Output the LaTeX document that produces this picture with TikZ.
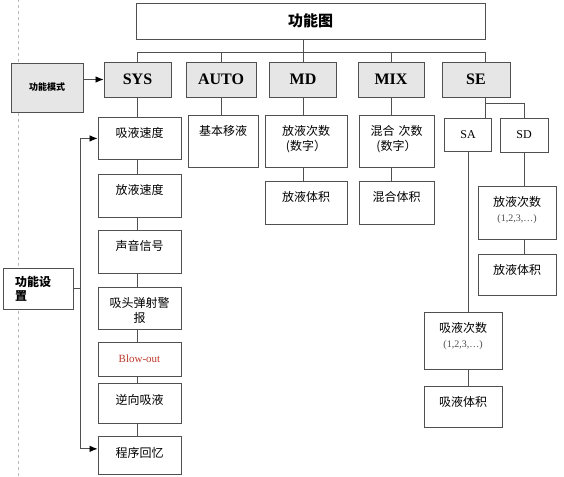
\documentclass[tikz,border=0pt]{standalone}
\usepackage{fontspec}
\setmainfont{Liberation Serif}
\newfontfamily\cjk{Noto Sans CJK SC}
\usetikzlibrary{arrows.meta,positioning,calc}
\definecolor{linegray}{HTML}{505050}
\definecolor{modegray}{HTML}{E6E6E6}
\definecolor{dashgray}{HTML}{BBBBBB}
\definecolor{blowred}{HTML}{C0392B}

\begin{document}
\begin{tikzpicture}[x=1pt,y=1pt,node distance=13pt,
 box/.style={draw=linegray,line width=0.9pt,fill=white,inner sep=0pt},
 modebox/.style={box,fill=modegray,minimum height=35pt,font=\bfseries\fontsize{16}{18}\selectfont},
 cell/.style 2 args={box,minimum width=#1pt,text width=64pt,align=center,inner ysep=8pt,text height=12.5pt,text depth=#2pt-28.5pt,font=\cjk\fontsize{12}{14.5}\selectfont},
 conn/.style={draw=linegray,line width=0.8pt},
 arr/.style={conn,-{Latex[length=8pt,width=6.5pt,color=black]}}]
\useasboundingbox (0,0) rectangle (564,476);
\draw[dashed,dashgray] (18,0) -- (18,476);
\coordinate (bus) at (0,424);
\coordinate (rail) at (80,0);

\node[box,minimum width=349pt,minimum height=36pt,font=\cjk\bfseries\fontsize{15}{18}\selectfont] (title) at (310.5,455) {功能图};

\node[modebox,minimum width=67pt] (SYS) at (137.5,396.5) {SYS};
\node[modebox,minimum width=70pt] (AUTO) at (221,396.5) {AUTO};
\node[modebox,minimum width=67pt] (MD) at (303,396.5) {MD};
\node[modebox,minimum width=66pt] (MIX) at (391,396.5) {MIX};
\node[modebox,minimum width=68pt] (SE) at (476,396.5) {SE};
\node[box,fill=modegray,minimum width=72pt,minimum height=49pt,font=\cjk\bfseries\fontsize{9}{11}\selectfont] (mode) at (47,388.5) {功能模式};

\node[cell={83}{42},anchor=north] (sys1) at (139.5,359) {吸液速度};
\node[cell={83}{43},below=14pt of sys1] (sys2) {放液速度};
\node[cell={83}{43},below=12pt of sys2] (sys3) {声音信号};
\node[cell={83}{42},below=13pt of sys3] (sys4) {吸头弹射警\\报};
\node[cell={83}{34},below=12pt of sys4,text=blowred,font=\fontsize{11}{13}\selectfont] (sys5) {Blow-out};
\node[cell={83}{40},below=7pt of sys5] (sys6) {逆向吸液};
\node[cell={83}{38},below=12pt of sys6] (sys7) {程序回忆};

\node[box,minimum width=70pt,minimum height=41pt,text width=46pt,align=left,font=\cjk\bfseries\fontsize{12}{14}\selectfont] (setup) at (38,187.5) {功能设\\置};

\node[cell={70}{52},anchor=north] (auto1) at (223,361) {基本移液};
\node[cell={82}{52},anchor=north] (md1) at (306,361) {放液次数\\(数字）};
\node[cell={82}{43},below=13pt of md1] (md2) {放液体积};
\node[cell={75}{52},anchor=north] (mix1) at (396.5,361) {混合 次数\\(数字）};
\node[cell={75}{43},below=13pt of mix1] (mix2) {混合体积};

\node[box,minimum width=47pt,minimum height=33pt,font=\fontsize{12}{14}\selectfont] (SA) at (468,341.5) {SA};
\node[box,minimum width=48pt,minimum height=34pt,font=\fontsize{12}{14}\selectfont] (SD) at (524,341) {SD};
\node[cell={78}{53},anchor=north] (sd1) at (517,290) {放液次数\\{\rmfamily\fontsize{10}{12}\selectfont\color{black!70}(1,2,3,…)}};
\node[cell={78}{41},below=14pt of sd1] (sd2) {放液体积};
\node[cell={78}{57},anchor=north] (sa1) at (463,164) {吸液次数\\{\rmfamily\fontsize{10}{12}\selectfont\color{black!70}(1,2,3,…)}};
\node[cell={78}{41},below=16pt of sa1] (sa2) {吸液体积};

\draw[conn] (SYS.north) |- (title.south east |- bus) -- (title.south east |- SE.north);
\foreach \m in {AUTO,MD,MIX}
  \draw[conn] (\m.north) -- (\m.north |- bus);
\draw[conn] (MD.north |- bus) -- (MD.north |- title.south);
\draw[arr] (mode.east |- SYS.west) -- (SYS.west);

\draw[conn] (SYS.south) -- (SYS.south |- sys1.north);
\foreach \u/\v in {sys1/sys2,sys2/sys3,sys3/sys4,sys4/sys5,sys5/sys6,sys6/sys7}
  \draw[conn] (SYS.south |- \u.south) -- (SYS.south |- \v.north);

\draw[conn] (AUTO.south) -- (AUTO.south |- auto1.north);
\draw[conn] (MD.south) -- (MD.south |- md1.north);
\draw[conn] (MD.south |- md1.south) -- (MD.south |- md2.north);
\draw[conn] (MIX.south) -- (MIX.south |- mix1.north);
\draw[conn] (MIX.south |- mix1.south) -- (MIX.south |- mix2.north);

\draw[conn] (title.south east |- SE.south) -- (title.south east |- SA.north);
\draw[conn] ($(title.south east |- SE.south)+(0,-6)$) -| (SD.north);
\draw[conn] (SD.south) -- (SD.south |- sd1.north);
\draw[conn] (SD.south |- sd1.south) -- (SD.south |- sd2.north);
\draw[conn] (SA.south) -- (SA.south |- sa1.north);
\draw[conn] (SA.south |- sa1.south) -- (SA.south |- sa2.north);

\draw[conn] (setup.east) -- (setup.east -| rail);
\draw[arr] (rail |- sys1.west) -- (sys1.west);
\draw[arr] (rail |- sys1.west) |- ([yshift=7pt]sys7.west);
\end{tikzpicture}
\end{document}
